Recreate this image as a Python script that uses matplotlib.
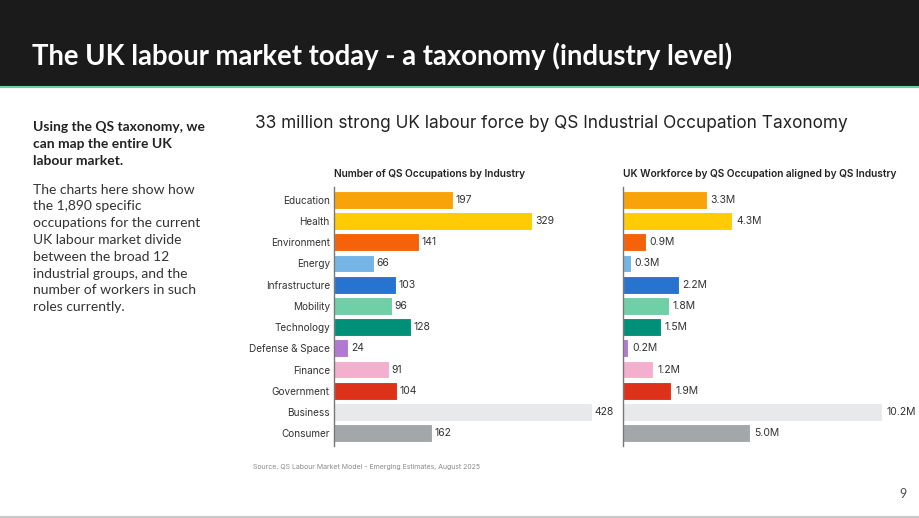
import matplotlib.pyplot as plt
from matplotlib.lines import Line2D

industries = ["Education", "Health", "Environment", "Energy", "Infrastructure", "Mobility",
              "Technology", "Defense & Space", "Finance", "Government", "Business", "Consumer"]
occupations = [197, 329, 141, 66, 103, 96, 128, 24, 91, 104, 428, 162]
workforce_m = [3.3, 4.3, 0.9, 0.3, 2.2, 1.8, 1.5, 0.2, 1.2, 1.9, 10.2, 5.0]
colors = ["#F9A30B", "#FFCB05", "#F5620A", "#74B5E6", "#2674CF", "#6FCFA6",
          "#00907A", "#B279D0", "#F4AFCF", "#DD3219", "#E8E9EB", "#A4A7A9"]

W, H = 920, 518
fig = plt.figure(figsize=(W / 100, H / 100), dpi=100)
fig.patch.set_facecolor("white")

# header band
fig.patches.append(plt.Rectangle((0, 1 - 85 / H), 1, 85 / H, transform=fig.transFigure,
                                 color="#1b1b1b", zorder=0))
fig.lines.append(Line2D([0, 1], [1 - 86.5 / H] * 2, transform=fig.transFigure,
                        color="#6dd19a", lw=1.5))
fig.lines.append(Line2D([0, 1], [1 - 517 / H] * 2, transform=fig.transFigure,
                        color="#c8c8c8", lw=1.5))
fig.text(32 / W, 1 - 56 / H, "The UK labour market today - a taxonomy (industry level)",
         color="white", fontsize=19.8, family="Lato", fontweight="bold", va="center")

# left text
fig.text(33 / W, 1 - 121 / H, "Using the QS taxonomy, we\ncan map the entire UK\nlabour market.",
         fontsize=10, family="Lato", fontweight="bold", color="#222222", va="top",
         linespacing=1.48)
fig.text(33 / W, 1 - 183.5 / H,
         "The charts here show how\nthe 1,890 specific\noccupations for the current\n"
         "UK labour market divide\nbetween the broad 12\nindustrial groups, and the\n"
         "number of workers in such\nroles currently.",
         fontsize=10, family="Lato", color="#333333", va="top", linespacing=1.48)

fig.text(255 / W, 1 - 123 / H,
         "33 million strong UK labour force by QS Industrial Occupation Taxonomy",
         fontsize=12.4, family="Inter", color="#222222", va="center")
fig.text(253 / W, 1 - 467 / H,
         "Source. QS Labour Market Model - Emerging Estimates, August 2025",
         fontsize=5, family="Inter", color="#8a8a8a", va="center")
fig.text(903 / W, 1 - 494 / H, "9", fontsize=9, family="Lato", color="#555555",
         va="center", ha="center")

bottom = 1 - 446 / H
height = (446 - 187) / H
ax1 = fig.add_axes([334 / W, bottom, 266 / W, height])
ax2 = fig.add_axes([623 / W, bottom, 277 / W, height])

y = range(len(industries))
ax1.barh(y, occupations, height=0.84, color=colors, edgecolor="white", linewidth=0.8)
ax2.barh(y, workforce_m, height=0.84, color=colors, edgecolor="white", linewidth=0.8)
ax1.set_xlim(0, 441)
ax2.set_xlim(0, 10.9)

for ax in (ax1, ax2):
    ax.set_ylim(len(industries) - 0.4, -0.6)
    for s in ("top", "right", "bottom"):
        ax.spines[s].set_visible(False)
    ax.spines["left"].set_color("#777777")
    ax.spines["left"].set_linewidth(1)
    ax.set_xticks([])
    ax.tick_params(axis="y", length=0, pad=3)

ax1.set_yticks(list(y))
ax1.set_yticklabels(industries, fontsize=7.2, family="Inter", color="#333333")
ax2.set_yticks([])

for i, v in enumerate(occupations):
    ax1.text(v + 4, i, str(v), va="center", ha="left", fontsize=7.5, family="Inter",
             color="#333333")
for i, v in enumerate(workforce_m):
    ax2.text(v + 0.15, i, f"{v:.1f}M", va="center", ha="left", fontsize=7.5,
             family="Inter", color="#333333")

ax1.set_title("Number of QS Occupations by Industry", loc="left", fontsize=7.3,
              family="Inter", fontweight="semibold", color="#222222", pad=7)
ax2.set_title("UK Workforce by QS Occupation aligned by QS Industry", loc="left",
              fontsize=7.3, family="Inter", fontweight="semibold", color="#222222", pad=7)

fig.savefig("out.png", dpi=100)
